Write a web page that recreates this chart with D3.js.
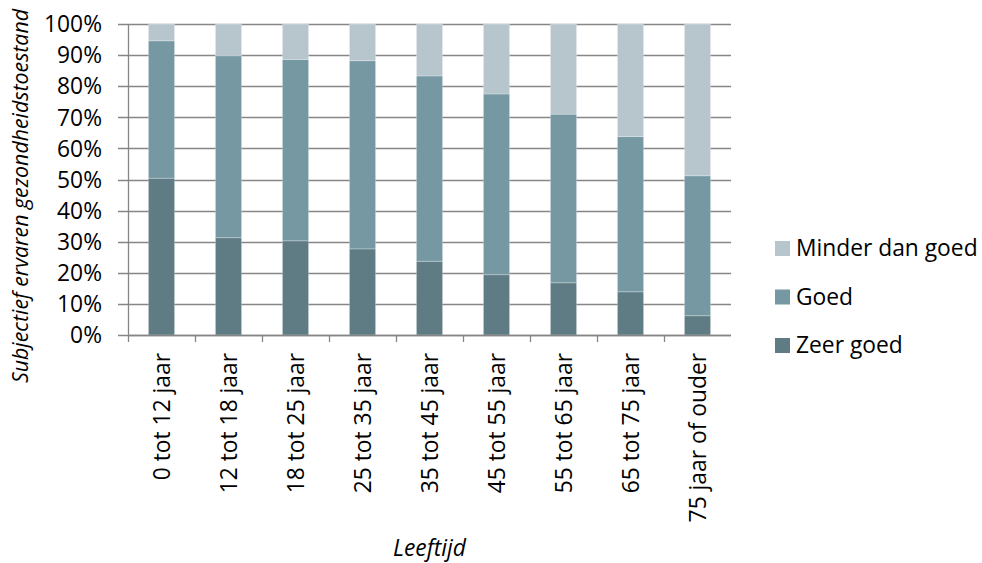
<!DOCTYPE html>
<html>
<head>
<meta charset="utf-8">
<script src="https://cdn.jsdelivr.net/npm/d3@7/dist/d3.min.js"></script>
<style>
  html, body { margin: 0; padding: 0; background: #fff; }
  svg { display: block; }
  text { font-family: "Open Sans", Lato, sans-serif; fill: #000; }
</style>
</head>
<body>
<svg id="chart" width="982" height="563"></svg>
<script>
const categories = ["0 tot 12 jaar", "12 tot 18 jaar", "18 tot 25 jaar", "25 tot 35 jaar", "35 tot 45 jaar", "45 tot 55 jaar", "55 tot 65 jaar", "65 tot 75 jaar", "75 jaar of ouder"];
const zeerGoed = [50.4, 31.3, 30.3, 27.7, 23.7, 19.4, 16.8, 13.9, 6.2];
const goed = [44.2, 58.5, 58.3, 60.5, 59.6, 58.1, 54.2, 49.9, 45.0];
const minderDanGoed = [5.4, 10.2, 11.4, 11.8, 16.7, 22.5, 29.0, 36.2, 48.8];
const seriesNames = ["Zeer goed", "Goed", "Minder dan goed"];
const seriesColors = ["#5f7c85", "#7598a3", "#b7c6cc"];
const yTicks = [0, 10, 20, 30, 40, 50, 60, 70, 80, 90, 100];
const yTitle = "Subjectief ervaren gezondheidstoestand";
const xTitle = "Leeftijd";

const svg = d3.select("#chart");
const margin = { left: 128, right: 251, top: 24, bottom: 228 };
const W = 982, H = 563;
const x0 = margin.left, x1 = W - margin.right;
const y0 = H - margin.bottom, y1 = margin.top;

const x = d3.scaleBand().domain(categories).range([x0, x1]).paddingInner(0.61).paddingOuter(0.305);
const y = d3.scaleLinear().domain([0, 100]).range([y0, y1]);

const FS = 22.8;
const grid = "#868686";

// gridlines
svg.append("g").selectAll("line").data(yTicks).join("line")
  .attr("x1", x0 - 10).attr("x2", x1)
  .attr("y1", d => Math.round(y(d)) + 0.5).attr("y2", d => Math.round(y(d)) + 0.5)
  .attr("stroke", grid).attr("stroke-width", 1.3);

// y axis labels
svg.append("g").selectAll("text").data(yTicks).join("text")
  .attr("x", x0 - 26).attr("y", d => y(d))
  .attr("dy", "0.36em").attr("text-anchor", "end")
  .style("font-size", FS + "px")
  .text(d => d + "%");

// stacked data
const table = categories.map((c, i) => ({ cat: c, "Zeer goed": zeerGoed[i], "Goed": goed[i], "Minder dan goed": minderDanGoed[i] }));
const stacked = d3.stack().keys(seriesNames)(table);

svg.append("g").selectAll("g").data(stacked).join("g")
  .attr("fill", (d, i) => seriesColors[i])
  .selectAll("rect").data(d => d).join("rect")
  .attr("x", d => x(d.data.cat))
  .attr("width", x.bandwidth())
  .attr("y", d => y(d[1]))
  .attr("height", d => y(d[0]) - y(d[1]))
  .attr("stroke", "#ffffff").attr("stroke-opacity", 0.25).attr("stroke-width", 1);

// y axis line
svg.append("line").attr("x1", x0 + 0.5).attr("x2", x0 + 0.5).attr("y1", y1).attr("y2", y0 + 0.5)
  .attr("stroke", grid).attr("stroke-width", 1.3);
// x axis line
svg.append("line").attr("x1", x0).attr("x2", x1).attr("y1", Math.round(y0) + 0.5).attr("y2", Math.round(y0) + 0.5)
  .attr("stroke", grid).attr("stroke-width", 1.3);

// x ticks at band boundaries
const step = x.step();
const bounds = d3.range(categories.length).map(i => x0 + i * step);
svg.append("g").selectAll("line").data(bounds).join("line")
  .attr("x1", d => Math.round(d) + 0.5).attr("x2", d => Math.round(d) + 0.5)
  .attr("y1", y0).attr("y2", y0 + 7)
  .attr("stroke", grid).attr("stroke-width", 1.3);

// x labels rotated
svg.append("g").selectAll("text").data(categories).join("text")
  .attr("transform", d => `translate(${x(d) + x.bandwidth() / 2},${y0 + 18}) rotate(-90)`)
  .attr("text-anchor", "end").attr("dy", "0.36em")
  .style("font-size", FS + "px")
  .text(d => d);

// axis titles
svg.append("text")
  .attr("transform", `translate(28,196) rotate(-90)`)
  .attr("text-anchor", "middle")
  .attr("textLength", 374).attr("lengthAdjust", "spacingAndGlyphs")
  .style("font-size", "21.5px").style("font-style", "italic")
  .text(yTitle);
svg.append("text")
  .attr("x", (x0 + x1) / 2).attr("y", 556)
  .attr("text-anchor", "middle")
  .style("font-size", FS + "px").style("font-style", "italic")
  .text(xTitle);

// legend
const legendOrder = [2, 1, 0];
const lg = svg.append("g").selectAll("g").data(legendOrder).join("g")
  .attr("transform", (d, i) => `translate(775,${248 + i * 48.5})`);
lg.append("rect").attr("x", 0).attr("y", -7).attr("width", 15).attr("height", 15)
  .attr("fill", d => seriesColors[d]);
lg.append("text").attr("x", 21).attr("y", 0).attr("dy", "0.36em")
  .style("font-size", FS + "px")
  .text(d => seriesNames[d]);
</script>
</body>
</html>
